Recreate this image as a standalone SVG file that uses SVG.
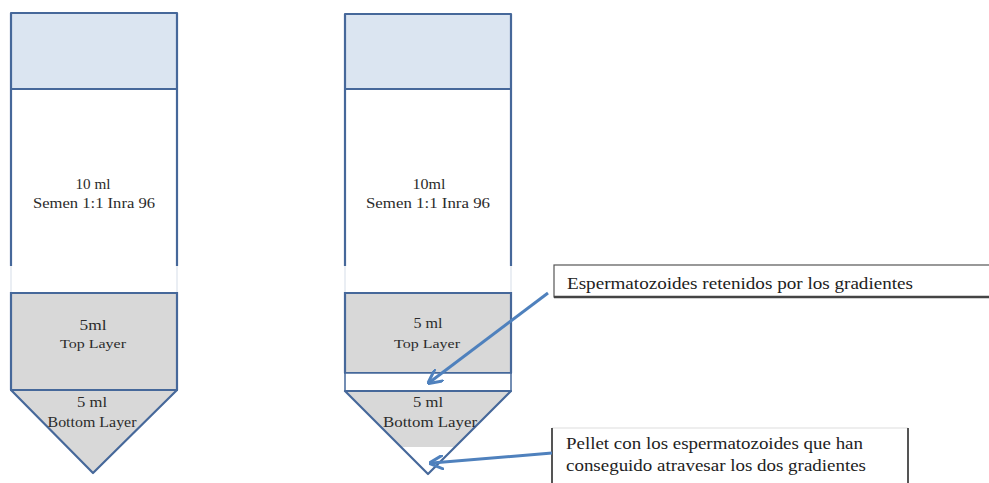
<svg xmlns="http://www.w3.org/2000/svg" width="989" height="483" viewBox="0 0 989 483">
<defs>
<style>
.tube{stroke:#46689a;stroke-width:2.2;stroke-linejoin:round}
.cap{fill:#dbe5f1}
.gray{fill:#d8d8d8}
.white{fill:#ffffff}
.lbl{font-family:"Liberation Serif",serif;fill:#2b2b2b;text-anchor:middle}
.call{font-family:"Liberation Serif",serif;fill:#222;font-size:16px}
.arrow{stroke:#4f81bd;stroke-width:3;fill:none}
</style>
<marker id="ah" viewBox="0 0 10 10" refX="8" refY="5" markerWidth="5" markerHeight="5" orient="auto" markerUnits="strokeWidth">
<path d="M0,0 L10,5 L0,10" fill="none" stroke="#4f81bd" stroke-width="2"/>
</marker>
</defs>
<rect width="989" height="483" fill="#fff"/>
<g id="tube-left">
<rect class="tube cap" x="11" y="13" width="166" height="76"/>
<rect class="tube white" x="11" y="89" width="166" height="204"/>
<rect x="9" y="266" width="170" height="26" fill="#fff"/>
<line x1="11" y1="266" x2="11" y2="292" stroke="#d5dde8" stroke-width="1"/>
<line x1="177" y1="266" x2="177" y2="292" stroke="#d5dde8" stroke-width="1"/>
<rect class="tube gray" x="11" y="293" width="166" height="97"/>
<polygon class="tube gray" points="11,390 177,390 93,473"/>
<text class="lbl" x="93" y="189" font-size="15" textLength="35" lengthAdjust="spacingAndGlyphs">10 ml</text>
<text class="lbl" x="94" y="208" font-size="15" textLength="122" lengthAdjust="spacingAndGlyphs">Semen 1:1 Inra 96</text>
<text class="lbl" x="93" y="330" font-size="14" textLength="27" lengthAdjust="spacingAndGlyphs">5ml</text>
<text class="lbl" x="93" y="348" font-size="13" textLength="66" lengthAdjust="spacingAndGlyphs">Top Layer</text>
<text class="lbl" x="92" y="407" font-size="15" textLength="30" lengthAdjust="spacingAndGlyphs">5 ml</text>
<text class="lbl" x="92" y="427" font-size="15" textLength="89" lengthAdjust="spacingAndGlyphs">Bottom Layer</text>
</g>
<g id="tube-right">
<rect class="tube cap" x="345" y="14" width="166" height="75"/>
<rect class="tube white" x="345" y="89" width="166" height="204"/>
<rect x="343" y="266" width="170" height="26" fill="#fff"/>
<line x1="345" y1="266" x2="345" y2="292" stroke="#d5dde8" stroke-width="1"/>
<line x1="511" y1="266" x2="511" y2="292" stroke="#d5dde8" stroke-width="1"/>
<rect class="tube gray" x="345" y="293" width="166" height="80"/>
<rect x="345" y="373" width="166" height="18" fill="#fff" stroke="#46689a" stroke-width="1.5"/>
<polygon class="gray" points="345,391 511,391 428,474"/>
<polygon points="401,447 455,447 428,474" fill="#fff"/>
<polygon class="tube" fill="none" points="345,391 511,391 428,474"/>
<text class="lbl" x="429" y="189" font-size="15" textLength="33" lengthAdjust="spacingAndGlyphs">10ml</text>
<text class="lbl" x="428" y="208" font-size="15" textLength="124" lengthAdjust="spacingAndGlyphs">Semen 1:1 Inra 96</text>
<text class="lbl" x="428" y="328" font-size="15" textLength="29" lengthAdjust="spacingAndGlyphs">5 ml</text>
<text class="lbl" x="427" y="348" font-size="13" textLength="66" lengthAdjust="spacingAndGlyphs">Top Layer</text>
<text class="lbl" x="428" y="407" font-size="15" textLength="30" lengthAdjust="spacingAndGlyphs">5 ml</text>
<text class="lbl" x="430" y="427" font-size="15" textLength="94" lengthAdjust="spacingAndGlyphs">Bottom Layer</text>
</g>
<g id="callout-retenidos">
<rect x="554" y="265" width="440" height="32" fill="#fff" stroke="#555" stroke-width="1.2"/>
<line x1="554" y1="297" x2="989" y2="297" stroke="#444" stroke-width="2.5"/>
<text class="call" x="567" y="289" textLength="346" lengthAdjust="spacingAndGlyphs">Espermatozoides retenidos por los gradientes</text>
</g>
<g id="callout-pellet">
<line x1="552" y1="428" x2="908" y2="428" stroke="#ddd" stroke-width="1"/>
<line x1="552" y1="428" x2="552" y2="483" stroke="#555" stroke-width="2"/>
<line x1="908" y1="428" x2="908" y2="483" stroke="#555" stroke-width="2"/>
<text class="call" x="566" y="449" textLength="297" lengthAdjust="spacingAndGlyphs">Pellet con los espermatozoides que han</text>
<text class="call" x="566" y="471" textLength="300" lengthAdjust="spacingAndGlyphs">conseguido atravesar los dos gradientes</text>
</g>
<g id="connectors">
<line class="arrow" x1="548" y1="293" x2="430" y2="382" marker-end="url(#ah)"/>
<line class="arrow" x1="552" y1="453" x2="432" y2="463" marker-end="url(#ah)"/>
</g>
</svg>
